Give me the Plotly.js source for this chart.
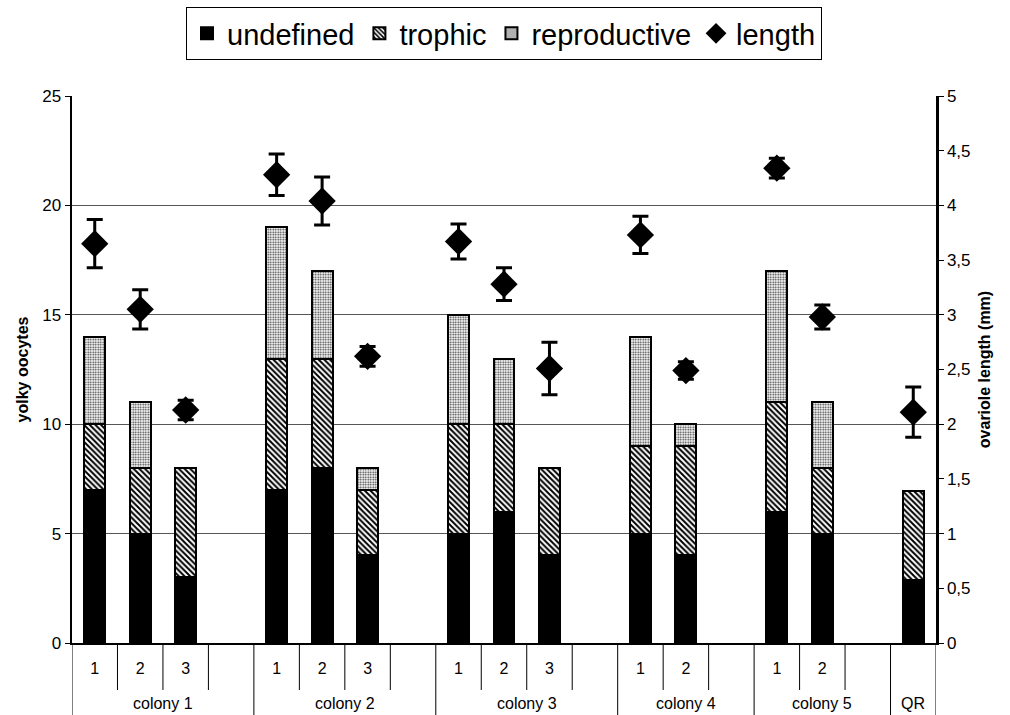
<!DOCTYPE html>
<html>
<head>
<meta charset="utf-8">
<script src="https://cdn.plot.ly/plotly-3.0.1.min.js"></script>
<style>html,body{margin:0;padding:0;background:#fff;}#chart{width:1010px;height:715px;}</style>
</head>
<body>
<div id="chart"></div>
<script>
// ---- data ----
const groups = ["colony 1","colony 2","colony 3","colony 4","colony 5","QR"];
const groupSubs = [["1","2","3",""],["1","2","3",""],["1","2","3",""],["1","2",""],["1","2",""],[""]];
const undefinedVals = [7,5,3,null, 7,8,4,null, 5,6,4,null, 5,4,null, 6,5,null, 2.9];
const trophicVals   = [3,3,5,null, 6,5,3,null, 5,4,4,null, 4,5,null, 5,3,null, 4.05];
const reproVals     = [4,3,0,null, 6,4,1,null, 5,3,0,null, 5,1,null, 6,3,null, 0];
const lengthVals    = [3.65,3.05,2.13,null, 4.28,4.04,2.62,null, 3.67,3.28,2.51,null, 3.73,2.49,null, 4.34,2.98,null, 2.11];
const lengthErr     = [0.22,0.18,0.09,null, 0.19,0.22,0.09,null, 0.16,0.15,0.24,null, 0.17,0.08,null, 0.09,0.11,null, 0.23];

// build unique category keys and tick texts
const cats = [], tickText = [], groupStart = [];
groups.forEach((g,gi)=>{
  groupStart.push(cats.length);
  groupSubs[gi].forEach((s,si)=>{ cats.push(g+"|"+si); tickText.push(s); });
});
const nCats = cats.length;

const font = "Liberation Sans, Arial, sans-serif";
const barLine = {color:"#000", width:2};
const traces = [
  {type:"bar", name:"undefined", x:cats, y:undefinedVals,
   marker:{color:"#000", line:barLine}},
  {type:"bar", name:"trophic", x:cats, y:trophicVals,
   marker:{color:"#fff", line:barLine, pattern:{shape:"\\", fgcolor:"#000", bgcolor:"#fff", size:4, solidity:0.5}}},
  {type:"bar", name:"reproductive", x:cats, y:reproVals,
   marker:{color:"#fff", line:barLine, pattern:{shape:".", fgcolor:"#333", bgcolor:"#fff", size:2.5, solidity:0.4}}},
  {type:"scatter", mode:"markers", name:"length", x:cats, y:lengthVals, yaxis:"y2",
   marker:{symbol:"diamond", size:21, color:"#000"},
   error_y:{type:"data", array:lengthErr, visible:true, color:"#000", thickness:3, width:8}}
];

// divider shapes
const shapes = [];
const subBottom = -47/547, grpBottom = -75/547;
for (let k=0;k<=nCats;k++){
  const isGroup = groupStart.includes(k) || k===nCats;
  shapes.push({type:"line", xref:"x", yref:"paper", x0:k-0.5, x1:k-0.5, y0:0, y1:isGroup?grpBottom:subBottom,
    line:{color:"#000", width:1}});
}
const annotations = groups.map((g,gi)=>{
  const s = groupStart[gi], n = groupSubs[gi].length;
  return {text:g, xref:"x", yref:"paper", x:s-0.5+n/2, y:-60/547, yanchor:"middle", xanchor:"center",
    showarrow:false, font:{family:font, size:16, color:"#000"}};
});

const layout = {
  width:1010, height:715,
  margin:{l:72, r:74, t:96, b:72, autoexpand:false},
  paper_bgcolor:"#fff", plot_bgcolor:"#fff",
  font:{family:font, size:16, color:"#000"},
  separators:", ",
  barmode:"stack", bargap:0.54,
  showlegend:true,
  legend:{orientation:"h", x:0.5, xanchor:"center", yref:"container", y:1-7/715, yanchor:"top",
    bordercolor:"#000", borderwidth:1, bgcolor:"#fff", traceorder:"normal",
    font:{family:font, size:29, color:"#000"}, itemwidth:30},
  xaxis:{type:"category", categoryorder:"array", categoryarray:cats, tickvals:cats, ticktext:tickText,
    range:[-0.5, nCats-0.5], ticks:"outside", ticklen:10, tickcolor:"rgba(0,0,0,0)",
    showline:true, linecolor:"#000", linewidth:2, showgrid:false, zeroline:false,
    tickfont:{family:font, size:16, color:"#000"}, fixedrange:true},
  yaxis:{range:[0,25], dtick:5, ticks:"outside", ticklen:5, tickcolor:"#000",
    showline:true, linecolor:"#000", linewidth:2.5, showgrid:true, gridcolor:"#555", gridwidth:1,
    zeroline:false, tickfont:{family:font, size:17, color:"#000"},
    title:{text:"<b>yolky oocytes</b>", font:{family:font, size:16, color:"#000"}, standoff:10}},
  yaxis2:{range:[0,5], dtick:0.5, overlaying:"y", side:"right", ticks:"outside", ticklen:5, tickcolor:"#000",
    showline:true, linecolor:"#000", linewidth:2.5, showgrid:false, zeroline:false,
    tickfont:{family:font, size:17, color:"#000"},
    title:{text:"<b>ovariole length (mm)</b>", font:{family:font, size:16, color:"#000"}, standoff:10}},
  shapes:shapes, annotations:annotations
};
Plotly.newPlot("chart", traces, layout, {displayModeBar:false, staticPlot:true});
</script>
</body>
</html>
